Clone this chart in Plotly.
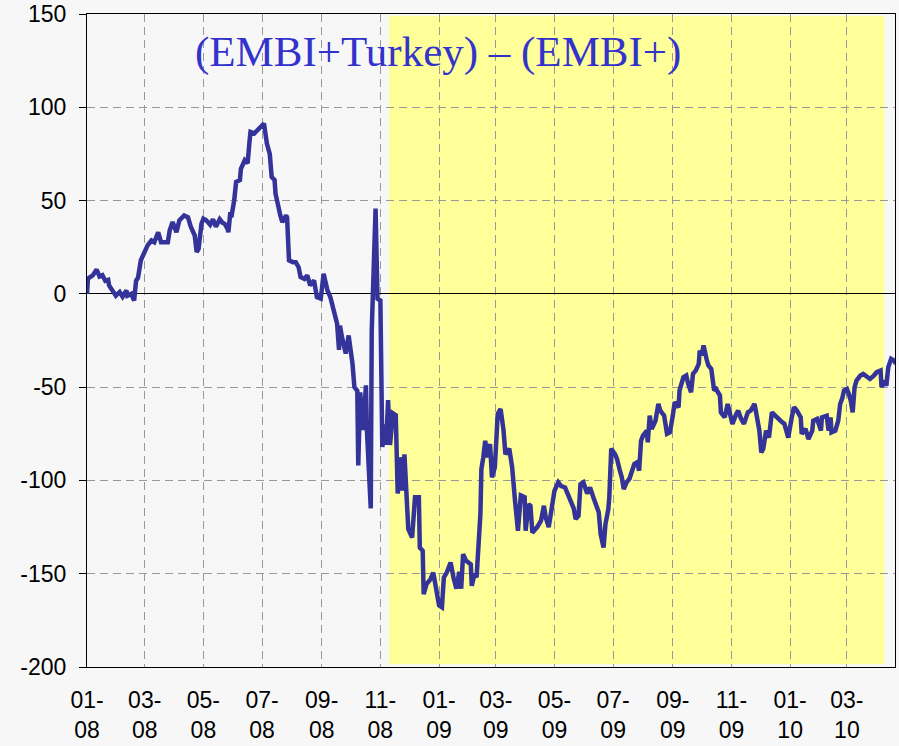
import plotly.graph_objects as go

dates = [
    "2008-01-01", "2008-01-02", "2008-01-07", "2008-01-11", "2008-01-14", "2008-01-17", "2008-01-20",
    "2008-01-23", "2008-01-24", "2008-01-28", "2008-01-31", "2008-02-04", "2008-02-07", "2008-02-11",
    "2008-02-12", "2008-02-16", "2008-02-19", "2008-02-21", "2008-02-23", "2008-02-26", "2008-03-01",
    "2008-03-04", "2008-03-08", "2008-03-11", "2008-03-15", "2008-03-18", "2008-03-25", "2008-03-27",
    "2008-03-30", "2008-04-03", "2008-04-06", "2008-04-11", "2008-04-15", "2008-04-18", "2008-04-22",
    "2008-04-24", "2008-04-26", "2008-04-29", "2008-05-01", "2008-05-04", "2008-05-08", "2008-05-11",
    "2008-05-14", "2008-05-18", "2008-05-21", "2008-05-23", "2008-05-26", "2008-05-27", "2008-05-29",
    "2008-05-30", "2008-06-02", "2008-06-04", "2008-06-08", "2008-06-09", "2008-06-13", "2008-06-16",
    "2008-06-18", "2008-06-19", "2008-06-23", "2008-06-26", "2008-06-30", "2008-07-03", "2008-07-06",
    "2008-07-09", "2008-07-11", "2008-07-14", "2008-07-15", "2008-07-18", "2008-07-20", "2008-07-22",
    "2008-07-26", "2008-07-27", "2008-07-29", "2008-08-02", "2008-08-05", "2008-08-08", "2008-08-10",
    "2008-08-14", "2008-08-17", "2008-08-20", "2008-08-24", "2008-08-27", "2008-08-31", "2008-09-03",
    "2008-09-07", "2008-09-10", "2008-09-14", "2008-09-17", "2008-09-19", "2008-09-20", "2008-09-22",
    "2008-09-26", "2008-09-29", "2008-10-03", "2008-10-05", "2008-10-08", "2008-10-09", "2008-10-11",
    "2008-10-14", "2008-10-17", "2008-10-18", "2008-10-22", "2008-10-23", "2008-10-27", "2008-10-29",
    "2008-11-01", "2008-11-03", "2008-11-06", "2008-11-07", "2008-11-09", "2008-11-11", "2008-11-14",
    "2008-11-17", "2008-11-19", "2008-11-23", "2008-11-24", "2008-11-26", "2008-11-28", "2008-11-30",
    "2008-12-04", "2008-12-07", "2008-12-11", "2008-12-12", "2008-12-15", "2008-12-16", "2008-12-19",
    "2008-12-23", "2008-12-26", "2008-12-29", "2009-01-01", "2009-01-04", "2009-01-06", "2009-01-09",
    "2009-01-13", "2009-01-16", "2009-01-19", "2009-01-22", "2009-01-24", "2009-01-26", "2009-01-29",
    "2009-02-03", "2009-02-04", "2009-02-07", "2009-02-09", "2009-02-13", "2009-02-14", "2009-02-16",
    "2009-02-18", "2009-02-20", "2009-02-23", "2009-02-25", "2009-02-28", "2009-03-03", "2009-03-06",
    "2009-03-09", "2009-03-11", "2009-03-15", "2009-03-18", "2009-03-21", "2009-03-24", "2009-03-27",
    "2009-03-31", "2009-04-01", "2009-04-04", "2009-04-06", "2009-04-08", "2009-04-13", "2009-04-17",
    "2009-04-20", "2009-04-22", "2009-04-25", "2009-04-29", "2009-05-01", "2009-05-05", "2009-05-08",
    "2009-05-12", "2009-05-16", "2009-05-21", "2009-05-23", "2009-05-26", "2009-05-28", "2009-05-31",
    "2009-06-04", "2009-06-07", "2009-06-11", "2009-06-14", "2009-06-16", "2009-06-18", "2009-06-21",
    "2009-06-23", "2009-06-26", "2009-06-27", "2009-06-29", "2009-07-03", "2009-07-05", "2009-07-08",
    "2009-07-10", "2009-07-12", "2009-07-15", "2009-07-18", "2009-07-21", "2009-07-23", "2009-07-26",
    "2009-07-28", "2009-07-30", "2009-08-01", "2009-08-05", "2009-08-06", "2009-08-08", "2009-08-10",
    "2009-08-14", "2009-08-17", "2009-08-19", "2009-08-23", "2009-08-26", "2009-08-29", "2009-09-01",
    "2009-09-03", "2009-09-07", "2009-09-08", "2009-09-12", "2009-09-15", "2009-09-17", "2009-09-20",
    "2009-09-22", "2009-09-25", "2009-09-28", "2009-09-29", "2009-10-01", "2009-10-03", "2009-10-06",
    "2009-10-08", "2009-10-11", "2009-10-14", "2009-10-16", "2009-10-20", "2009-10-21", "2009-10-25",
    "2009-10-28", "2009-10-30", "2009-11-02", "2009-11-06", "2009-11-08", "2009-11-11", "2009-11-14",
    "2009-11-18", "2009-11-21", "2009-11-25", "2009-11-27", "2009-11-30", "2009-12-02", "2009-12-04",
    "2009-12-07", "2009-12-10", "2009-12-13", "2009-12-16", "2009-12-19", "2009-12-22", "2009-12-26",
    "2009-12-30", "2010-01-03", "2010-01-05", "2010-01-08", "2010-01-12", "2010-01-13", "2010-01-17",
    "2010-01-20", "2010-01-24", "2010-01-25", "2010-01-29", "2010-02-02", "2010-02-03", "2010-02-08",
    "2010-02-10", "2010-02-12", "2010-02-13", "2010-02-17", "2010-02-20", "2010-02-22", "2010-02-24",
    "2010-02-26", "2010-03-01", "2010-03-03", "2010-03-05", "2010-03-07", "2010-03-09", "2010-03-11",
    "2010-03-15", "2010-03-18", "2010-03-22", "2010-03-25", "2010-03-29", "2010-04-01", "2010-04-05",
    "2010-04-06", "2010-04-09", "2010-04-11", "2010-04-13", "2010-04-16", "2010-04-19", "2010-04-21",
]

spread = [
    0, 8.2, 9.9, 13, 9.3, 10, 7,
    7.5, 4.5, 1.8, -1, 1, -1.5, 1.8,
    -1, 0, -3.6, 7, 8.6, 18, 22,
    26, 28.6, 27.7, 33, 27.7, 27.7, 34,
    38.5, 33, 39.4, 42, 41, 35.8, 31.3,
    22.4, 24, 37.6, 40.3, 39.4, 37, 40,
    36, 40, 38, 37.6, 35, 33, 43.8,
    41, 50, 60, 61, 67, 71.6, 70,
    82, 86.8, 86, 87.7, 90.4, 91.3, 80.6,
    75, 62.6, 61, 53.7, 44.8, 42, 38.5,
    42, 41, 18, 17, 17, 14.3, 9,
    8, 9.9, 4.5, 7.2, -1.8, -2.6, 10.8,
    1.8, -1.8, -10.7, -16, -30, -17, -23,
    -32, -22.3, -37.5, -50, -52, -92, -52.8,
    -73, -49, -73, -115, -20, 45.7, -2.6,
    -3.6, -82, -70, -81, -57, -81, -64,
    -65, -107, -87.6, -105.5, -86, -109, -126,
    -130.6, -109, -109, -136, -137.7, -161, -155.6,
    -153, -149.4, -159, -167, -168, -152, -149.4,
    -144, -152, -158, -149, -158, -139.5, -143,
    -145, -156.5, -150, -152, -118, -94, -87.6,
    -78.7, -87.6, -80.5, -98.4, -93, -64.4, -61.7,
    -73, -86, -83, -93, -111, -127, -108,
    -109, -127, -112.7, -113.6, -128, -125, -121.6,
    -113.6, -120, -125, -111, -105.5, -101, -103,
    -103.8, -109, -115, -120.7, -119, -102, -101,
    -107, -103.8, -110, -114.5, -117, -128.8, -136,
    -123.4, -115.3, -109, -83, -86, -88.5, -94.8,
    -98.4, -104.6, -101, -99, -93, -91.2, -90.3,
    -94.8, -78.7, -76, -73.3, -79.6, -65.3, -72.4,
    -68, -59, -62.6, -65.3, -75, -74.2, -65.3,
    -58, -60.8, -51.8, -44.7, -43.8, -48.3, -52.8,
    -42.9, -41, -37.5, -30.4, -33, -27.7, -34.8,
    -38.4, -40.2, -51.8, -51, -54.5, -63.5, -66.2,
    -59, -64.4, -69.7, -64.4, -62.6, -67, -69.7,
    -63.5, -62.6, -59, -64.4, -73.3, -85, -83,
    -73.3, -77, -63.5, -65.3, -67, -68, -69.7,
    -77, -65.3, -60.8, -62.6, -66.2, -75, -72.4,
    -77.8, -73.3, -68, -67, -73.3, -66.2, -65.3,
    -73.3, -66.2, -74.2, -73.3, -68, -59, -56.3,
    -51.8, -51, -53.6, -57.2, -63.5, -50, -46.5,
    -43.8, -42.9, -44.7, -45.6, -43.8, -42, -41.1,
    -50, -46.5, -49.2, -39.3, -34.8, -35.7, -37.5,
]

tick_dates = [
    "2008-01-01", "2008-03-01", "2008-05-01", "2008-07-01", "2008-09-01", "2008-11-01",
    "2009-01-01", "2009-03-01", "2009-05-01", "2009-07-01", "2009-09-01", "2009-11-01",
    "2010-01-01", "2010-03-01",
]
tick_text = [
    "01-<br>08", "03-<br>08", "05-<br>08", "07-<br>08", "09-<br>08", "11-<br>08",
    "01-<br>09", "03-<br>09", "05-<br>09", "07-<br>09", "09-<br>09", "11-<br>09",
    "01-<br>10", "03-<br>10",
]

y_ticks = [-200, -150, -100, -50, 0, 50, 100, 150]
y_tick_text = ["-200", "-150", "-100", "-50", "0", "50", "100", "150"]

shade_start = "2008-11-10"
shade_end = "2010-04-09"

title_text = "(EMBI+Turkey) – (EMBI+)"

fig = go.Figure()
fig.add_trace(go.Scatter(
    x=dates, y=spread, mode="lines",
    line=dict(color="#333399", width=4.5),
    showlegend=False, hoverinfo="skip",
))

fig.add_shape(
    type="rect", xref="x", yref="y",
    x0=shade_start, x1=shade_end, y0=-198.5, y1=149,
    fillcolor="#ffff99", line=dict(width=0), layer="below",
)

fig.add_annotation(
    text=title_text, xref="paper", yref="paper",
    x=0.434, y=0.942, xanchor="center", yanchor="middle", showarrow=False,
    font=dict(family="Liberation Serif, Times New Roman, serif", size=43, color="#3333cc"),
)

fig.update_layout(
    width=899, height=746,
    margin=dict(l=87, r=4, t=14, b=79, autoexpand=False),
    paper_bgcolor="#f7f7f7",
    plot_bgcolor="#f7f7f7",
    font=dict(family="Liberation Sans, Arial, Helvetica, sans-serif", size=23, color="black"),
    showlegend=False,
)

fig.update_xaxes(
    type="date",
    range=["2008-01-01", "2010-04-20"],
    tickmode="array", tickvals=tick_dates, ticktext=tick_text,
    showgrid=True, gridcolor="#999999", griddash="8px,5px", gridwidth=1,
    showline=True, linecolor="black", linewidth=1, mirror=True,
    ticks="", ticklabelstandoff=12, automargin=False,
    tickfont=dict(size=23),
)

fig.update_yaxes(
    range=[-200, 150],
    tickmode="array", tickvals=y_ticks, ticktext=y_tick_text,
    showgrid=True, gridcolor="#999999", griddash="8px,5px", gridwidth=1,
    zeroline=True, zerolinecolor="black", zerolinewidth=1,
    showline=True, linecolor="black", linewidth=1, mirror=True,
    ticks="outside", ticklen=7, tickcolor="black", ticklabelstandoff=8,
    automargin=False,
    tickfont=dict(size=23),
)

fig.write_html(
    "out.html",
    config={"responsive": False, "displayModeBar": False},
    post_script="document.body.style.margin='0px';document.body.style.overflow='hidden';",
)
